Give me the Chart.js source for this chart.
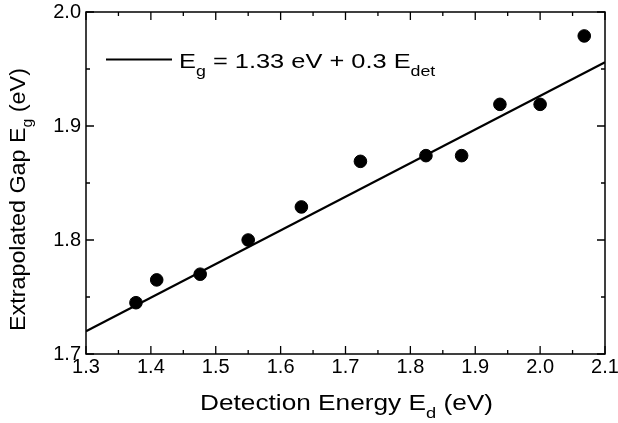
<!DOCTYPE html>
<html>
<head>
<meta charset="utf-8">
<script src="https://cdn.jsdelivr.net/npm/chart.js@4/dist/chart.umd.min.js"></script>
<style>
  html, body { margin: 0; padding: 0; background: #fff; }
  #wrap { width: 618px; height: 423px; position: relative; }
</style>
</head>
<body>
<div id="wrap"><canvas id="c" width="618" height="423"></canvas></div>
<script>
// ---- data ----
const detEnergy = [1.377, 1.409, 1.476, 1.550, 1.632, 1.723, 1.824, 1.879, 1.938, 2.000, 2.068];
const gapEnergy = [1.745, 1.765, 1.770, 1.800, 1.829, 1.869, 1.874, 1.874, 1.919, 1.919, 1.979];
const fitX = [1.3, 2.1];
const fitY = [1.72, 1.956];
const xTickValues = [1.3, 1.4, 1.5, 1.6, 1.7, 1.8, 1.9, 2.0, 2.1];
const yTickValues = [1.7, 1.8, 1.9, 2.0];
const xMinorValues = [1.35, 1.45, 1.55, 1.65, 1.75, 1.85, 1.95, 2.05];
const yMinorValues = [1.75, 1.85, 1.95];

const FONT = '"Liberation Sans", Arial, Helvetica, sans-serif';

// draws [text, isSubscript] pieces starting at the current origin
function drawRich(ctx, parts, size, subSize, subDrop) {
  let cx = 0;
  ctx.textBaseline = 'alphabetic';
  ctx.textAlign = 'left';
  for (const [t, sub] of parts) {
    ctx.font = (sub ? subSize : size) + 'px ' + FONT;
    ctx.fillText(t, cx, sub ? subDrop : 0);
    cx += ctx.measureText(t).width;
  }
}

const decor = {
  id: 'decor',
  afterDraw(chart) {
    const ctx = chart.ctx;
    const a = chart.chartArea;
    const xs = chart.scales.x, ys = chart.scales.y;
    ctx.save();
    ctx.strokeStyle = '#000';
    ctx.fillStyle = '#000';
    ctx.lineWidth = 1.5;
    ctx.strokeRect(a.left, a.top, a.right - a.left, a.bottom - a.top);
    ctx.lineWidth = 1.3;
    const tickX = (vals, len) => {
      for (const v of vals) {
        const px = xs.getPixelForValue(v);
        ctx.beginPath();
        ctx.moveTo(px, a.bottom); ctx.lineTo(px, a.bottom - len);
        ctx.moveTo(px, a.top); ctx.lineTo(px, a.top + len);
        ctx.stroke();
      }
    };
    const tickY = (vals, len) => {
      for (const v of vals) {
        const py = ys.getPixelForValue(v);
        ctx.beginPath();
        ctx.moveTo(a.left, py); ctx.lineTo(a.left + len, py);
        ctx.moveTo(a.right, py); ctx.lineTo(a.right - len, py);
        ctx.stroke();
      }
    };
    tickX(xTickValues, 8); tickX(xMinorValues, 4);
    tickY(yTickValues, 8); tickY(yMinorValues, 4);

    // x axis title
    ctx.save();
    ctx.translate(200, 410);
    ctx.scale(1.22, 1);
    drawRich(ctx, [['Detection Energy E', false], ['d', true], [' (eV)', false]], 21.5, 15, 8);
    ctx.restore();

    // y axis title (rotated)
    ctx.save();
    ctx.translate(25, 331);
    ctx.rotate(-Math.PI / 2);
    ctx.scale(1.06, 1);
    drawRich(ctx, [['Extrapolated Gap E', false], ['g', true], [' (eV)', false]], 22, 15, 7);
    ctx.restore();

    // legend
    ctx.lineWidth = 2.2;
    ctx.beginPath();
    ctx.moveTo(106, 59.5); ctx.lineTo(172, 59.5);
    ctx.stroke();
    ctx.save();
    ctx.translate(179, 68);
    ctx.scale(1.27, 1);
    drawRich(ctx, [['E', false], ['g', true], [' = 1.33 eV + 0.3 E', false], ['det', true]], 20, 14, 8);
    ctx.restore();
    ctx.restore();
  }
};

new Chart(document.getElementById('c'), {
  data: {
    datasets: [
      {
        type: 'line',
        label: 'fit',
        data: fitX.map((x, i) => ({ x, y: fitY[i] })),
        borderColor: '#000',
        borderWidth: 2.2,
        pointRadius: 0,
        fill: false,
        tension: 0
      },
      {
        type: 'scatter',
        label: 'data',
        data: detEnergy.map((x, i) => ({ x, y: gapEnergy[i] })),
        backgroundColor: '#000',
        borderColor: '#000',
        pointRadius: 6.3,
        pointHoverRadius: 6.3
      }
    ]
  },
  options: {
    responsive: false,
    animation: false,
    devicePixelRatio: 1,
    layout: { padding: { left: 0, right: 13, top: 12, bottom: 0 } },
    plugins: { legend: { display: false }, tooltip: { enabled: false } },
    scales: {
      x: {
        type: 'linear', min: 1.3, max: 2.1,
        afterBuildTicks: s => { s.ticks = xTickValues.map(v => ({ value: v })); },
        afterFit: s => { s.height = 69; s.paddingLeft = 0; s.paddingRight = 0; },
        grid: { display: false, drawTicks: false },
        border: { display: false },
        ticks: {
          padding: 1,
          color: '#000',
          font: { family: FONT, size: 20 },
          maxRotation: 0,
          callback: v => Number(v).toFixed(1)
        }
      },
      y: {
        type: 'linear', min: 1.7, max: 2.0,
        afterBuildTicks: s => { s.ticks = yTickValues.map(v => ({ value: v })); },
        afterFit: s => { s.width = 86; s.paddingTop = 0; s.paddingBottom = 0; },
        grid: { display: false, drawTicks: false },
        border: { display: false },
        ticks: {
          padding: 5,
          color: '#000',
          font: { family: FONT, size: 20 },
          callback: v => Number(v).toFixed(1)
        }
      }
    }
  },
  plugins: [decor]
});
</script>
</body>
</html>
